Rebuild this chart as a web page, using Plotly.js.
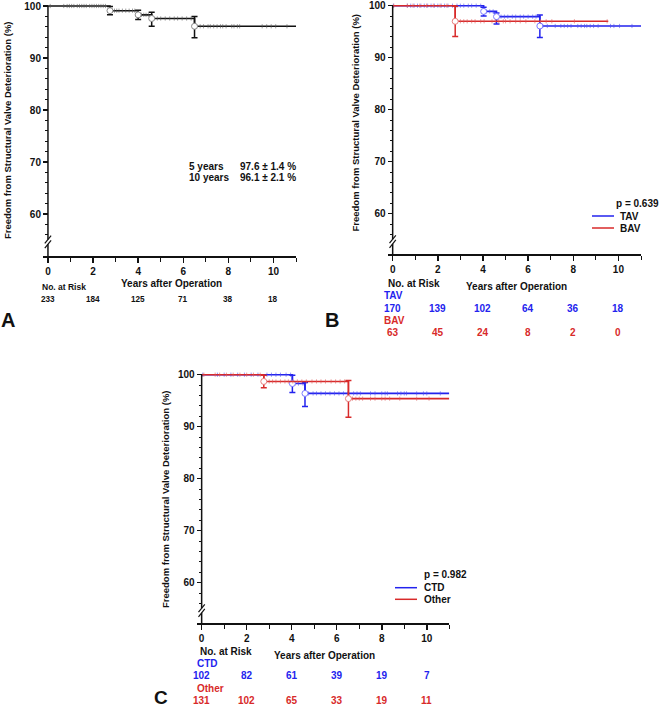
<!DOCTYPE html>
<html><head><meta charset="utf-8">
<script src="https://cdn.plot.ly/plotly-3.0.1.min.js"></script>
<style>html,body{margin:0;padding:0;background:#fff}</style>
</head><body><div id="chart" style="width:660px;height:708px"></div>
<script>
// ---------------- DATA ----------------
const yearTicks = [0, 2, 4, 6, 8, 10];
const yTickVals = [60, 70, 80, 90, 100];

// Panel A : all patients
const A_times = [2.75, 4.0, 4.6, 6.5];
const A_surv = [99.1, 98.3, 97.6, 96.1];
const A_lower = [98.3, 97.4, 96.1, 93.9];
const A_upper = [99.9, 99.2, 98.8, 98.0];
const A_end = 11.0;
const A_censored = [0.1, 0.7, 0.85, 0.95, 1.05, 1.15, 1.3, 1.4, 1.5, 1.6, 1.7, 1.85, 1.95, 2.05, 2.15, 2.25, 2.35, 2.45, 2.55,
  2.85, 2.95, 3.05, 3.15, 3.3, 3.45, 3.6, 3.75, 3.85, 4.15, 4.25, 4.35, 4.45,
  4.7, 4.85, 5.0, 5.2, 5.4, 5.6, 5.75, 5.95, 6.15, 6.35,
  6.6, 6.75, 6.9, 7.1, 7.2, 7.35, 7.5, 7.65, 7.75, 7.9, 8.15, 8.25, 8.4, 8.5, 9.5, 9.7, 9.9, 10.1, 10.6];
const A_atRisk = [233, 184, 125, 71, 38, 18];
const A_statLabels = ["5 years", "10 years"];
const A_statValues = ["97.6 ± 1.4 %", "96.1 ± 2.1 %"];

// Panel B : TAV vs BAV
const TAV_times = [4.03, 4.6, 6.52];
const TAV_surv = [98.9, 97.9, 96.1];
const TAV_lower = [98.0, 96.5, 93.9];
const TAV_upper = [99.7, 98.6, 98.2];
const TAV_end = 11.0;
const TAV_censored = [0.03, 0.65, 0.8, 0.95, 1.1, 1.25, 1.4, 1.55, 1.7, 1.85, 2.0, 2.15, 2.3, 2.45, 2.65, 2.85, 3.0, 3.15, 3.35, 3.5, 3.7, 3.9,
  4.15, 4.3, 4.45, 4.8, 4.95, 5.1, 5.3, 5.45, 5.65, 5.8, 6.0, 6.2, 6.35,
  6.65, 6.85, 7.2, 7.45, 7.6, 7.75, 7.9, 8.2, 8.35, 8.5, 8.6, 8.75, 8.9, 9.1, 9.65, 9.8, 10.05, 10.6];
const TAV_atRisk = [170, 139, 102, 64, 36, 18];
const BAV_times = [2.77];
const BAV_surv = [97.0];
const BAV_lower = [94.1];
const BAV_upper = [99.9];
const BAV_end = 9.55;
const BAV_censored = [0.05, 0.65, 0.9, 1.2, 1.5, 1.8, 2.1, 2.4,
  3.0, 3.15, 3.3, 3.5, 3.65, 3.9, 4.05, 4.4, 4.55, 4.7, 4.9, 5.0, 5.2, 5.45, 5.65, 5.9, 6.3, 6.55, 6.8, 7.05, 8.05, 9.5];
const BAV_atRisk = [63, 45, 24, 8, 2, 0];
const B_pValue = "p = 0.639";

// Panel C : CTD vs Other
const CTD_times = [4.03, 4.59];
const CTD_surv = [98.3, 96.4];
const CTD_lower = [96.6, 93.9];
const CTD_upper = [99.9, 98.5];
const CTD_end = 11.0;
const CTD_censored = [0.05, 0.7, 1.0, 1.3, 1.6, 1.9, 2.2, 2.5, 2.9, 3.1, 3.3, 3.5, 3.75, 3.95,
  4.15, 4.3, 4.5, 4.75, 4.95, 5.1, 5.3, 5.5, 5.7, 5.9, 6.1, 6.3, 6.5,
  6.75, 6.9, 7.05, 7.5, 7.7, 8.0, 8.15, 8.25, 8.7, 8.85, 9.0, 9.1, 9.55, 9.85, 10.0, 10.6];
const CTD_atRisk = [102, 82, 61, 39, 19, 7];
const Other_times = [2.76, 6.52];
const Other_surv = [98.7, 95.4];
const Other_lower = [97.5, 91.8];
const Other_upper = [99.9, 98.9];
const Other_end = 11.0;
const Other_censored = [0.1, 0.6, 0.8, 1.1, 1.4, 1.7, 2.0, 2.3, 2.6,
  3.0, 3.15, 3.3, 3.5, 3.7, 3.85, 4.05, 4.25, 4.45, 4.65, 4.9, 5.1, 5.3, 5.5, 5.75, 5.95, 6.15, 6.35,
  6.7, 6.85, 7.0, 7.15, 7.5, 7.7, 8.0, 8.15, 8.35, 8.8, 9.55, 10.1];
const Other_atRisk = [131, 102, 65, 33, 19, 11];
const C_pValue = "p = 0.982";

// ---------------- STYLE / LAYOUT HELPERS ----------------
const W = 660, H = 708;
const FONT = "Liberation Sans, Arial, sans-serif";
const BLUE = "#2323ee", RED = "#d82a2a", BLACK = "#111";
const PXU = 5.2;            // pixels per % unit on y
const XMIN = -0.22, XMAX = 11.0;
const YTOP = 100.6;
const BREAK_C = 54.65;

const panels = [
  {sfx: "", xl: 43, xr: 296, y100: 6, ybot: 256},
  {sfx: "2", xl: 387.7, xr: 641, y100: 5.7, ybot: 254},
  {sfx: "3", xl: 196.7, xr: 449.3, y100: 374.7, ybot: 623.3}
];

const layout = {
  width: W, height: H, autosize: false,
  margin: {l: 0, r: 0, t: 0, b: 0, pad: 0},
  paper_bgcolor: "#fff", plot_bgcolor: "rgba(0,0,0,0)",
  showlegend: false, font: {family: FONT, color: BLACK},
  shapes: [], annotations: []
};

function stepAt(t, times, surv) {
  let v = 100;
  for (let i = 0; i < times.length; i++) if (t >= times[i]) v = surv[i];
  return v;
}

panels.forEach(p => {
  const ymin = 100 - (p.ybot - p.y100) / PXU;
  const topPx = p.y100 - (YTOP - 100) * PXU;
  const x0px = p.xl + (0 - XMIN) * (p.xr - p.xl) / (XMAX - XMIN);
  p.ymin = ymin;
  layout["xaxis" + p.sfx] = {
    domain: [p.xl / W, p.xr / W], range: [XMIN, XMAX], anchor: "y" + p.sfx,
    showgrid: false, zeroline: false, showline: true, linecolor: BLACK, linewidth: 1.5,
    ticks: "outside", tickvals: yearTicks, ticklen: 5, tickwidth: 1.5, tickcolor: BLACK,
    minor: {tickvals: [1, 3, 5, 7, 9, 11], ticks: "outside", ticklen: 4, tickwidth: 1, tickcolor: BLACK},
    tickfont: {family: FONT, size: 10, weight: "bold", color: BLACK}, fixedrange: true
  };
  layout["yaxis" + p.sfx] = {
    domain: [1 - p.ybot / H, 1 - topPx / H], range: [ymin, YTOP], anchor: "free", position: x0px / W,
    showgrid: false, zeroline: false, showline: false,
    ticks: "outside", tickvals: yTickVals, ticklen: 5, tickwidth: 1.5, tickcolor: BLACK,
    minor: {tickvals: [56, 58, 62, 64, 66, 68, 72, 74, 76, 78, 82, 84, 86, 88, 92, 94, 96, 98], ticks: "outside", ticklen: 3, tickwidth: 1, tickcolor: BLACK},
    tickfont: {family: FONT, size: 10, weight: "bold", color: BLACK}, fixedrange: true
  };
  const xr = "x" + p.sfx, yr = "y" + p.sfx;
  // y axis line with break
  layout.shapes.push({type: "line", xref: xr, yref: yr, x0: 0, x1: 0, y0: BREAK_C + 0.45, y1: 100, line: {color: BLACK, width: 1.5}});
  layout.shapes.push({type: "line", xref: xr, yref: yr, x0: 0, x1: 0, y0: ymin, y1: BREAK_C - 0.45, line: {color: BLACK, width: 1.5}});
  [BREAK_C + 0.45, BREAK_C - 0.45].forEach(c => {
    layout.shapes.push({type: "line", xref: xr, yref: yr, x0: -0.14, x1: 0.14, y0: c - 0.75, y1: c + 0.75, line: {color: BLACK, width: 1.2}});
  });
});

function ann(text, x, y, o) {
  o = o || {};
  layout.annotations.push(Object.assign({
    text: text, xref: "paper", yref: "paper", x: x / W, y: 1 - y / H,
    xanchor: "left", yanchor: "middle", align: "left", showarrow: false, borderpad: 0
  }, o, {font: Object.assign({family: FONT, size: 10, weight: "bold", color: BLACK}, o.font || {})}));
}
function annX(text, xval, xr, y, o) {
  o = o || {};
  layout.annotations.push({
    text: String(text), xref: xr, yref: "paper", x: xval, y: 1 - y / H,
    xanchor: "center", yanchor: "middle", showarrow: false,
    font: Object.assign({family: FONT, size: 10, weight: "bold", color: BLACK}, o.font || {})
  });
}
const yTitle = "Freedom from Structural Valve Deterioration (%)";

// ---------------- TRACES ----------------
const traces = [];
function addGroup(sfx, times, surv, lower, upper, end, censored, color, outline, censColor) {
  const xa = "x" + sfx, ya = "y" + sfx;
  traces.push({
    x: [0].concat(times, [end]), y: [100].concat(surv, [surv[surv.length - 1]]),
    xaxis: xa, yaxis: ya, mode: "lines", line: {shape: "hv", color: color, width: 1.6}, hoverinfo: "skip"
  });
  traces.push({
    x: censored, y: censored.map(t => stepAt(t, times, surv)), xaxis: xa, yaxis: ya,
    mode: "markers", cliponaxis: false,
    marker: {symbol: "line-ns", size: 3, line: {color: censColor, width: 1}}, hoverinfo: "skip"
  });
  traces.push({
    x: times, y: surv, xaxis: xa, yaxis: ya, mode: "markers", cliponaxis: false,
    marker: {symbol: "circle", size: 6, color: "#fff", line: {color: outline, width: 1}},
    error_y: {type: "data", symmetric: false,
      array: upper.map((u, i) => u - surv[i]), arrayminus: lower.map((l, i) => surv[i] - l),
      color: color, thickness: 1.5, width: 3},
    hoverinfo: "skip"
  });
}
addGroup("", A_times, A_surv, A_lower, A_upper, A_end, A_censored, BLACK, "#888", "rgba(90,90,90,0.6)");
addGroup("2", TAV_times, TAV_surv, TAV_lower, TAV_upper, TAV_end, TAV_censored, BLUE, "#7a7aff", "rgba(80,80,240,0.6)");
addGroup("2", BAV_times, BAV_surv, BAV_lower, BAV_upper, BAV_end, BAV_censored, RED, "#e88080", "rgba(220,90,90,0.6)");
addGroup("3", CTD_times, CTD_surv, CTD_lower, CTD_upper, CTD_end, CTD_censored, BLUE, "#7a7aff", "rgba(80,80,240,0.6)");
addGroup("3", Other_times, Other_surv, Other_lower, Other_upper, Other_end, Other_censored, RED, "#e88080", "rgba(220,90,90,0.6)");

// ---------------- TEXT ----------------
const GRP_SHIFT = -3.5;   // compensate group-label indent
// Panel A
ann(yTitle, 7, 130, {xanchor: "center", align: "center", textangle: -90, font: {size: 9.5}});
ann("Years after Operation", 171, 283, {xanchor: "center", align: "center"});
ann("No. at Risk", 40.5, 287, {font: {size: 8.5}});
A_atRisk.forEach((n, i) => annX(n, yearTicks[i], "x", 299, {font: {size: 8.2}}));
ann(A_statLabels[0], 187.7, 166.7); ann(A_statValues[0], 239.3, 166.7);
ann(A_statLabels[1], 187.7, 177.7); ann(A_statValues[1], 239.3, 177.7);
ann("A", 8.3, 319.5, {xanchor: "center", align: "center", font: {size: 20}});

// Panel B
ann(yTitle, 355, 122.5, {xanchor: "center", align: "center", textangle: -90, font: {size: 9.5}});
ann("Years after Operation", 516, 286.7, {xanchor: "center", align: "center"});
ann("No. at Risk", 386.5, 283);
ann("TAV", 386.5 + GRP_SHIFT, 295.7, {font: {color: BLUE}});
TAV_atRisk.forEach((n, i) => annX(n, yearTicks[i], "x2", 308, {font: {color: BLUE}}));
ann("BAV", 386.5 + GRP_SHIFT, 320, {font: {color: RED}});
BAV_atRisk.forEach((n, i) => annX(n, yearTicks[i], "x2", 332.7, {font: {color: RED}}));
ann(B_pValue, 659.5, 203, {xanchor: "right", align: "right"});
ann("TAV", 619, 216); ann("BAV", 619, 228);
layout.shapes.push({type: "line", xref: "paper", yref: "paper", x0: 592 / W, x1: 614 / W, y0: 1 - 216 / H, y1: 1 - 216 / H, line: {color: BLUE, width: 1.5}});
layout.shapes.push({type: "line", xref: "paper", yref: "paper", x0: 592 / W, x1: 614 / W, y0: 1 - 228 / H, y1: 1 - 228 / H, line: {color: RED, width: 1.5}});
ann("B", 332, 320, {xanchor: "center", align: "center", font: {size: 20}});

// Panel C
ann(yTitle, 165, 499, {xanchor: "center", align: "center", textangle: -90, font: {size: 9.5}});
ann("Years after Operation", 324.7, 655.7, {xanchor: "center", align: "center"});
ann("No. at Risk", 199, 651);
ann("CTD", 199 + GRP_SHIFT, 663.3, {font: {color: BLUE}});
CTD_atRisk.forEach((n, i) => annX(n, yearTicks[i], "x3", 675.7, {font: {color: BLUE}}));
ann("Other", 199 + GRP_SHIFT, 688.3, {font: {color: RED}});
Other_atRisk.forEach((n, i) => annX(n, yearTicks[i], "x3", 700.3, {font: {color: RED}}));
ann(C_pValue, 422.7, 574);
ann("CTD", 422.7, 587.7); ann("Other", 422.7, 599.3);
layout.shapes.push({type: "line", xref: "paper", yref: "paper", x0: 395 / W, x1: 417 / W, y0: 1 - 587.7 / H, y1: 1 - 587.7 / H, line: {color: BLUE, width: 1.5}});
layout.shapes.push({type: "line", xref: "paper", yref: "paper", x0: 395 / W, x1: 417 / W, y0: 1 - 599.3 / H, y1: 1 - 599.3 / H, line: {color: RED, width: 1.5}});
ann("C", 160.5, 697, {xanchor: "center", align: "center", font: {size: 19}});

Plotly.newPlot("chart", traces, layout, {displayModeBar: false, staticPlot: true});
</script>
</body></html>
